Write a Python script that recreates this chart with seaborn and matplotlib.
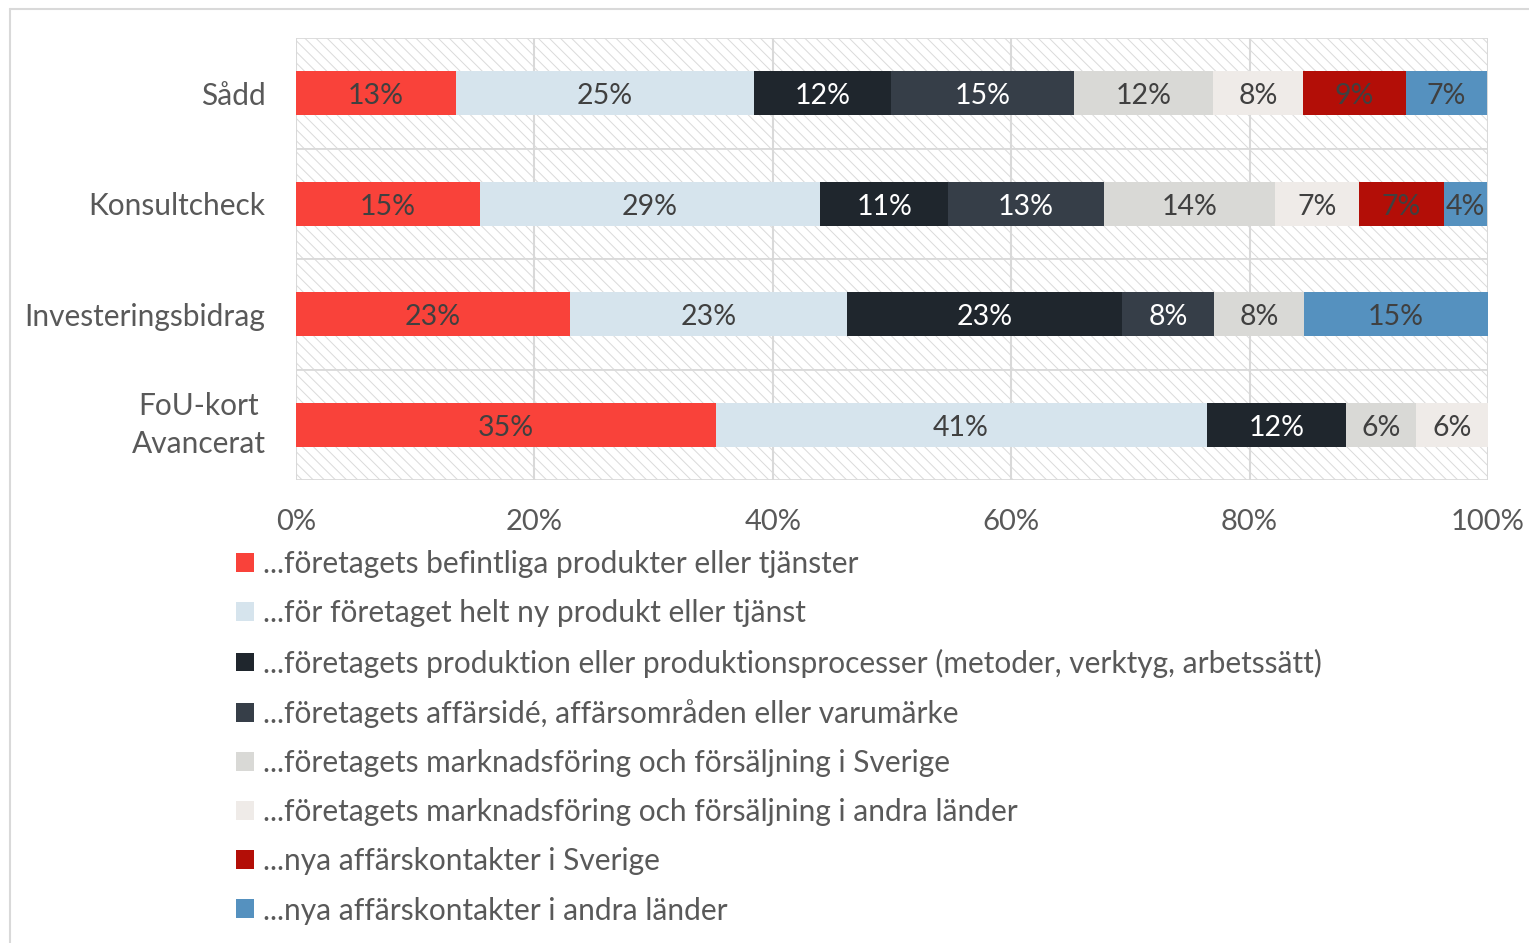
import numpy as np
import seaborn as sns
import matplotlib.pyplot as plt
from matplotlib.lines import Line2D
from matplotlib.patches import Patch

sns.set_style("white")
plt.rcParams['font.family'] = ['Lato', 'DejaVu Sans']
plt.rcParams['hatch.linewidth'] = 0.7

categories = ["Sådd", "Konsultcheck", "Investeringsbidrag", "FoU-kort\nAvancerat"]

series_names = [
    "...företagets befintliga produkter eller tjänster",
    "...för företaget helt ny produkt eller tjänst",
    "...företagets produktion eller produktionsprocesser (metoder, verktyg, arbetssätt)",
    "...företagets affärsidé, affärsområden eller varumärke",
    "...företagets marknadsföring och försäljning i Sverige",
    "...företagets marknadsföring och försäljning i andra länder",
    "...nya affärskontakter i Sverige",
    "...nya affärskontakter i andra länder",
]

befintliga = [13.4, 15.4, 23.0, 35.2]
ny_produkt = [25.0, 28.6, 23.2, 41.2]
produktion = [11.5, 10.7, 23.1, 11.7]
affarside = [15.4, 13.1, 7.7, 0.0]
marknad_sverige = [11.6, 14.3, 7.6, 5.9]
marknad_andra = [7.6, 7.1, 0.0, 6.0]
kontakter_sverige = [8.6, 7.1, 0.0, 0.0]
kontakter_andra = [6.8, 3.6, 15.4, 0.0]

series = [befintliga, ny_produkt, produktion, affarside,
          marknad_sverige, marknad_andra, kontakter_sverige, kontakter_andra]

colors = ["#F9423A", "#D6E4ED", "#1F262D", "#363E48",
          "#D9D9D6", "#EFEBE8", "#B30E07", "#5591BF"]
label_colors = ["#404040", "#404040", "white", "white",
                "#404040", "#404040", "#404040", "#404040"]

grey_txt = "#595959"
fs = 21.5

fig = plt.figure(figsize=(15.29, 9.43), dpi=100)
ax = fig.add_axes([296 / 1529, 1 - 480 / 943, 1192 / 1529, 442 / 943])

# hatched background band for each category
sns.barplot(x=[100] * len(categories), y=categories, orient="h", width=1.0,
            color="white", saturation=1, edgecolor="#DADADA", linewidth=1.3,
            hatch="\\\\\\", zorder=0.3, ax=ax)

left = np.zeros(len(categories))
for vals, col, tcol in zip(series, colors, label_colors):
    sns.barplot(x=vals, y=categories, orient="h", width=0.4, color=col,
                saturation=1, left=left, linewidth=0, zorder=2, ax=ax)
    cont = ax.containers[-1]
    labels = [f"{round(v)}%" if v > 0 else "" for v in vals]
    texts = ax.bar_label(cont, labels=labels, label_type="center", color=tcol,
                         fontsize=20.5, zorder=3)
    for t in texts:
        t.xyann = (0, -2.2)
    left = left + np.array(vals)

ax.set_xlim(0, 100)
ax.set_xticks(range(0, 101, 20))
ax.set_xticklabels([f"{t}%" for t in range(0, 101, 20)])
ax.xaxis.grid(True, color="#D9D9D9", linewidth=1.5)
ax.set_axisbelow(True)
ax.set_xlabel("")
ax.set_ylabel("")
for s in ax.spines.values():
    s.set_visible(False)
ax.tick_params(axis="x", length=0, pad=21, labelsize=21, labelcolor=grey_txt)
ax.tick_params(axis="y", length=0, pad=22, labelsize=fs, labelcolor=grey_txt)
for lab in ax.get_yticklabels():
    lab.set_multialignment("center")
    lab.set_linespacing(1.45)
    if "\n" in lab.get_text():
        lab.set_va("center")

handles = [Patch(facecolor=c, edgecolor="none") for c in colors]
fig.legend(handles, series_names, loc="upper left",
           bbox_to_anchor=(236 / 1529, 1 - 550 / 943), frameon=False,
           fontsize=fs, labelcolor=grey_txt, handlelength=0.6,
           handleheight=0.6, handletextpad=0.3, labelspacing=0.71,
           borderpad=0, borderaxespad=0)

# outer frame (only top/left edges are visible in the crop)
fig.add_artist(Line2D([10 / 1529, 10 / 1529], [0, 1 - 9 / 943],
                      transform=fig.transFigure, color="#D9D9D9", lw=1.5))
fig.add_artist(Line2D([10 / 1529, 1], [1 - 9 / 943, 1 - 9 / 943],
                      transform=fig.transFigure, color="#D9D9D9", lw=1.5))

fig.savefig("out.png", dpi=100)
